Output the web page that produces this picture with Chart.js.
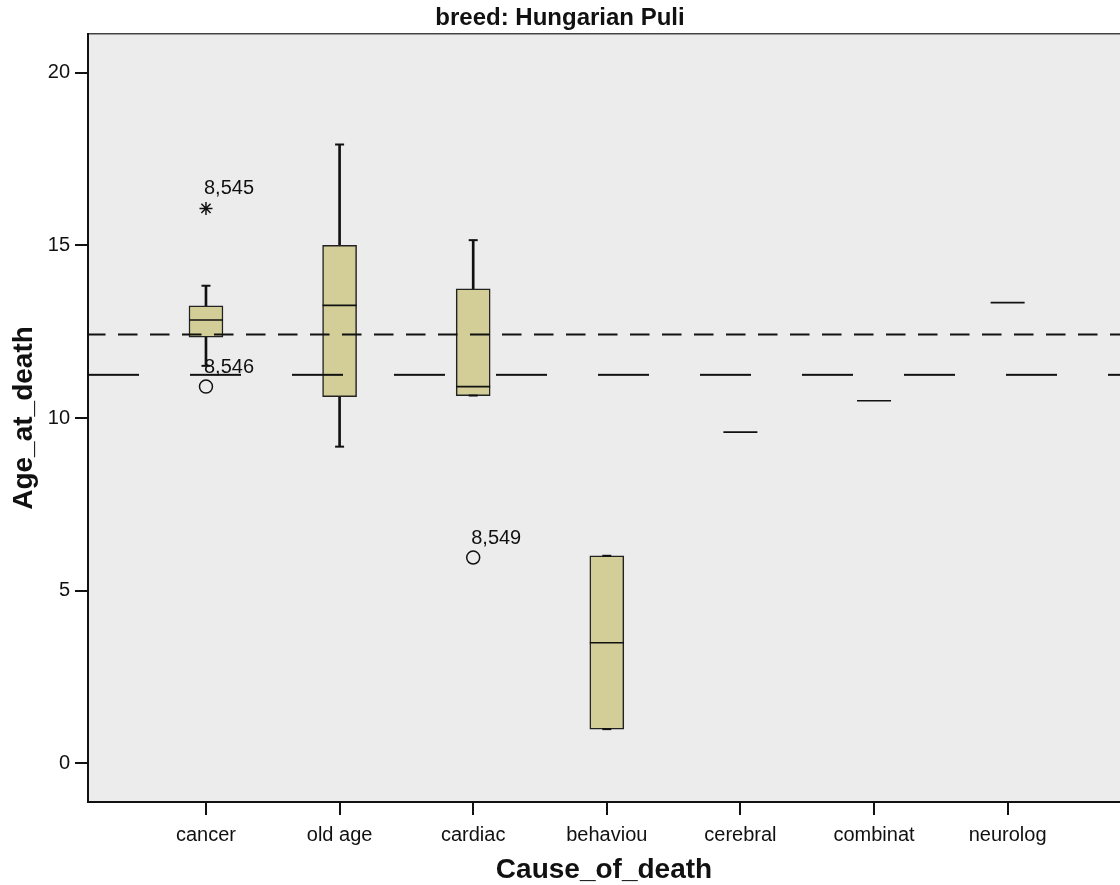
<!DOCTYPE html>
<html><head><meta charset="utf-8">
<script src="https://cdn.jsdelivr.net/npm/chart.js@4.4.0/dist/chart.umd.min.js"></script>
<style>html,body{margin:0;padding:0;background:#fff;overflow:hidden}</style>
</head><body>
<canvas id="c" width="1120" height="885" style="display:block;width:1120px;height:885px"></canvas>
<script>
// ---- data ----
const categories = ['cancer', 'old age', 'cardiac', 'behaviou', 'cerebral', 'combinat', 'neurolog'];
const q1        = [12.34, 10.62, 10.65, 0.99, 9.59, 10.50, 13.34];
const medians   = [12.84, 13.26, 10.91, 3.49, 9.59, 10.50, 13.34];
const q3        = [13.25, 15.00, 13.74, 6.01, 9.59, 10.50, 13.34];
const whiskLow  = [11.51, 9.17, 10.65, 0.99, 9.59, 10.50, 13.34];
const whiskHigh = [13.83, 17.92, 15.15, 6.01, 9.59, 10.50, 13.34];
const outlierCats   = [0, 2];
const outlierVals   = [10.91, 5.96];
const outlierLabels = ['8,546', '8,549'];
const extremeCats   = [0];
const extremeVals   = [16.07];
const extremeLabels = ['8,545'];
const refShort = 12.42;   // short-dash reference line
const refLong  = 11.25;   // long-dash reference line
const yTicks = [0, 5, 10, 15, 20];
const xMin = -0.883, xMax = 6.841, yMin = -1.12, yMax = 21.12;

// ---- derived datasets ----
const idx = categories.map((c, i) => i);
const boxData = idx.filter(i => q3[i] > q1[i]).map(i => ({x: i, y: [q1[i], q3[i]]}));
const upperWhisk = idx.filter(i => whiskHigh[i] > q3[i]).map(i => ({x: i, y: [q3[i], whiskHigh[i]]}));
const lowerWhisk = idx.filter(i => whiskLow[i] < q1[i]).map(i => ({x: i, y: [whiskLow[i], q1[i]]}));
const caps = [];
idx.filter(i => q3[i] > q1[i]).forEach(i => { caps.push({x: i, y: whiskHigh[i]}); caps.push({x: i, y: whiskLow[i]}); });
const medData = idx.map(i => ({x: i, y: medians[i]}));
const outData = outlierCats.map((c, k) => ({x: c, y: outlierVals[k]}));
const extData = extremeCats.map((c, k) => ({x: c, y: extremeVals[k]}));

const INK = '#111';
const FONT = '"Liberation Sans", Arial, Helvetica, sans-serif';
Chart.defaults.font.family = FONT;
Chart.defaults.color = INK;

const bgPlugin = {
  id: 'plotBg',
  beforeDraw(chart) {
    const {ctx, chartArea: a} = chart;
    ctx.save(); ctx.fillStyle = '#ececec';
    ctx.fillRect(a.left, a.top, a.right - a.left, a.bottom - a.top);
    ctx.restore();
  }
};
const labelPlugin = {
  id: 'pointLabels',
  afterDatasetsDraw(chart) {
    const {ctx} = chart; const x = chart.scales.x, y = chart.scales.y;
    ctx.save(); ctx.font = '20px ' + FONT; ctx.fillStyle = INK;
    ctx.textAlign = 'left'; ctx.textBaseline = 'middle';
    outlierCats.forEach((c, k) => ctx.fillText(outlierLabels[k], x.getPixelForValue(c) - 2, y.getPixelForValue(outlierVals[k]) - 19));
    extremeCats.forEach((c, k) => ctx.fillText(extremeLabels[k], x.getPixelForValue(c) - 2, y.getPixelForValue(extremeVals[k]) - 20));
    ctx.restore();
  }
};

new Chart(document.getElementById('c'), {
  type: 'bar',
  data: {
    datasets: [
      {type: 'line', data: [{x: xMin, y: refShort}, {x: xMax, y: refShort}], borderColor: INK, borderWidth: 2,
       borderDash: [19.5, 12.5], borderDashOffset: 2, pointRadius: 0, order: 0},
      {type: 'line', data: [{x: xMin, y: refLong}, {x: xMax, y: refLong}], borderColor: INK, borderWidth: 2,
       borderDash: [51, 51], pointRadius: 0, order: 0},
      {type: 'scatter', data: medData, pointStyle: 'line', pointRadius: 17, pointBorderWidth: 1.6, borderColor: INK, order: 1},
      {type: 'scatter', data: caps, pointStyle: 'line', pointRadius: 4.5, pointBorderWidth: 2, borderColor: INK, order: 1},
      {type: 'scatter', data: outData, pointStyle: 'circle', pointRadius: 6.5, pointBorderWidth: 1.5, borderColor: INK, backgroundColor: 'rgba(0,0,0,0)', order: 1},
      {type: 'scatter', data: extData, pointStyle: 'star', pointRadius: 6.5, pointBorderWidth: 1.5, borderColor: INK, order: 1},
      {type: 'bar', data: boxData, backgroundColor: '#d3ce97', borderColor: '#222', borderWidth: 1.5, borderSkipped: false, barThickness: 34, grouped: false, order: 2},
      {type: 'bar', data: upperWhisk, backgroundColor: INK, borderWidth: 0, barThickness: 2, grouped: false, order: 3},
      {type: 'bar', data: lowerWhisk, backgroundColor: INK, borderWidth: 0, barThickness: 2, grouped: false, order: 3}
    ]
  },
  options: {
    responsive: false, animation: false, devicePixelRatio: 1,
    events: [],
    layout: {autoPadding: false, padding: {left: 0, right: 0, top: 0, bottom: 0}},
    plugins: {
      legend: {display: false}, tooltip: {enabled: false},
      title: {display: true, text: 'breed: Hungarian Puli', color: INK, font: {size: 24, weight: 'bold'}, padding: {top: 4, bottom: 1.2}}
    },
    scales: {
      x: {
        type: 'linear', position: 'bottom', min: xMin, max: xMax, offset: false,
        afterBuildTicks: s => { s.ticks = idx.map(i => ({value: i})); },
        afterFit: s => { s.height = 885 - 802; s.paddingRight = 0; s.paddingLeft = 0; },
        ticks: {autoSkip: false, maxRotation: 0, padding: 8, font: {size: 20}, color: INK, callback: v => categories[v] ?? ''},
        grid: {display: true, offset: false, drawOnChartArea: false, drawTicks: true, tickLength: 13, color: INK, lineWidth: 2},
        border: {display: true, color: INK, width: 2},
        title: {display: true, text: 'Cause_of_death', color: INK, font: {size: 28, weight: 'bold'}, padding: {top: 0, bottom: -2}}
      },
      x2: {
        type: 'linear', position: 'top', min: xMin, max: xMax, offset: false,
        afterFit: s => { s.height = 0; s.paddingRight = 0; s.paddingLeft = 0; },
        ticks: {display: false},
        grid: {display: true, offset: false, drawOnChartArea: false, drawTicks: false},
        border: {display: true, color: '#444', width: 1.5}
      },
      y: {
        type: 'linear', min: yMin, max: yMax,
        afterBuildTicks: s => { s.ticks = yTicks.map(v => ({value: v})); },
        afterFit: s => { s.width = 88; },
        ticks: {padding: 5, font: {size: 20}, color: INK},
        grid: {display: true, drawOnChartArea: false, drawTicks: true, tickLength: 13, color: INK, lineWidth: 2},
        border: {display: true, color: INK, width: 2},
        title: {display: true, text: 'Age_at_death', color: INK, font: {size: 28, weight: 'bold'}, padding: {top: 7, bottom: 0}}
      }
    }
  },
  plugins: [bgPlugin, labelPlugin]
});
</script>
</body></html>
